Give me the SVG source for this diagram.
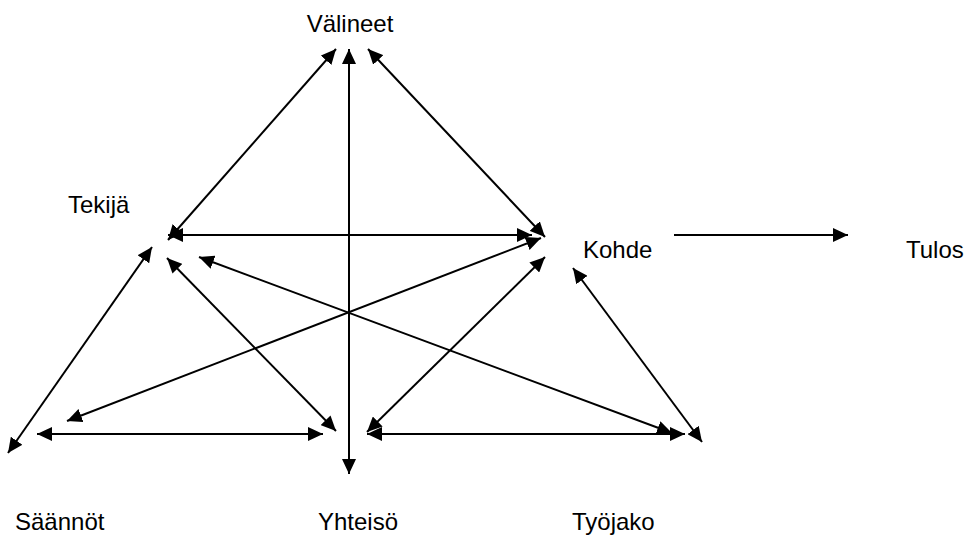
<svg xmlns="http://www.w3.org/2000/svg" width="972" height="542" viewBox="0 0 972 542">
<style>
text{font-family:"Liberation Sans",Arial,sans-serif;font-size:24px;fill:#000}
.c line{stroke:#000;stroke-width:2;fill:none}
.b{marker-start:url(#a);marker-end:url(#a)}
.s{marker-end:url(#a)}
</style>
<defs>
<marker id="a" markerUnits="userSpaceOnUse" markerWidth="16" markerHeight="14" refX="15" refY="7" orient="auto-start-reverse">
<path d="M0,0 L15,7 L0,14 z" fill="#000"/>
</marker>
</defs>
<rect width="972" height="542" fill="#fff"/>
<g id="valineet"><text x="350" y="32" text-anchor="middle">Välineet</text></g>
<g id="tekija"><text x="68" y="213">Tekijä</text></g>
<g id="kohde"><text x="583" y="258">Kohde</text></g>
<g id="tulos"><text x="906" y="258">Tulos</text></g>
<g id="saannot"><text x="15" y="530">Säännöt</text></g>
<g id="yhteiso"><text x="318" y="530">Yhteisö</text></g>
<g id="tyonjako"><text x="572" y="530">Työjako</text></g>
<g class="c" id="connectors">
<line class="b" x1="168" y1="240" x2="336" y2="49"/>
<line class="b" x1="349" y1="49" x2="349" y2="474"/>
<line class="b" x1="368" y1="49" x2="545" y2="237"/>
<line class="b" x1="168" y1="235" x2="532" y2="235"/>
<line class="s" x1="674" y1="235" x2="848" y2="235"/>
<line class="b" x1="152" y1="247" x2="8" y2="453"/>
<line class="b" x1="541" y1="238" x2="67" y2="421"/>
<line class="b" x1="37" y1="434" x2="323" y2="434"/>
<line class="b" x1="167" y1="258" x2="336" y2="431"/>
<line class="b" x1="199" y1="257" x2="672" y2="433"/>
<line class="b" x1="545" y1="257" x2="367" y2="432"/>
<line class="b" x1="367" y1="434" x2="685" y2="434"/>
<line class="b" x1="573" y1="268" x2="702" y2="442"/>
</g>
</svg>
